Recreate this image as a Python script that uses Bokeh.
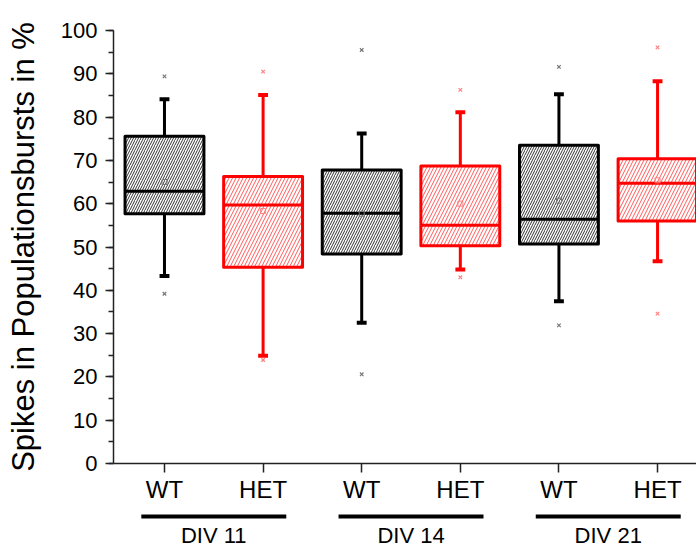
from bokeh.plotting import figure
from bokeh.models import Range1d, FixedTicker, SingleIntervalTicker, ColumnDataSource
from bokeh.layouts import column
from bokeh.core.properties import value
from bokeh.embed import file_html
from bokeh.resources import INLINE

# ---- data ----
groups = ["DIV 11", "DIV 14", "DIV 21"]
genotypes = ["WT", "HET", "WT", "HET", "WT", "HET"]
positions = [1, 2, 3, 4, 5, 6]
q1 = [57.7, 45.3, 48.4, 50.3, 50.7, 56.0]
median = [62.9, 59.7, 57.8, 55.0, 56.4, 64.7]
q3 = [75.6, 66.3, 67.8, 68.7, 73.5, 70.4]
whisker_low = [43.3, 24.9, 32.5, 44.8, 37.5, 46.7]
whisker_high = [84.1, 85.1, 76.2, 81.1, 85.3, 88.3]
means = [65.0, 58.3, 57.7, 60.0, 60.7, 65.4]
outlier_high = [89.4, 90.5, 95.5, 86.3, 91.6, 96.1]
outlier_low = [39.2, 23.9, 20.6, 43.0, 31.9, 34.6]

FONT = "Liberation Sans"
colors = ["black", "red"] * 3
hatch_colors = ["#333333", "#ff5a5a"] * 3
hatch_scales = [5, 7] * 3
marker_colors = ["#777777", "#ff8080"] * 3

BW = 0.8
CAP = 0.1

p = figure(width=696, height=507, output_backend="svg", toolbar_location=None,
           x_range=Range1d(0.483, 6.395), y_range=Range1d(0, 100),
           min_border_left=113, min_border_right=0, min_border_top=30,
           min_border_bottom=44)
p.outline_line_color = None
p.xgrid.visible = False
p.ygrid.visible = False
p.background_fill_color = "white"

src = ColumnDataSource(dict(
    x=positions, q1=q1, q3=q3, med=median, wl=whisker_low, wh=whisker_high,
    mean=means, oh=outlier_high, ol=outlier_low,
    x0=[x - BW / 2 for x in positions], x1=[x + BW / 2 for x in positions],
    c0=[x - CAP / 2 for x in positions], c1=[x + CAP / 2 for x in positions],
    color=colors, hcolor=hatch_colors, hscale=hatch_scales, mcolor=marker_colors,
))

# whiskers
p.segment(x0="x", y0="q3", x1="x", y1="wh", source=src, line_color="color", line_width=3)
p.segment(x0="x", y0="q1", x1="x", y1="wl", source=src, line_color="color", line_width=3)
p.segment(x0="c0", y0="wh", x1="c1", y1="wh", source=src, line_color="color", line_width=4)
p.segment(x0="c0", y0="wl", x1="c1", y1="wl", source=src, line_color="color", line_width=4)

# boxes
p.vbar(x="x", width=BW, bottom="q1", top="q3", source=src, fill_color="white",
       line_color="color", line_width=3, line_join="round",
       hatch_pattern="/", hatch_color="hcolor", hatch_scale="hscale", hatch_weight=1)
p.segment(x0="x0", y0="med", x1="x1", y1="med", source=src, line_color="color", line_width=3)

# means & outliers
p.scatter(x="x", y="mean", source=src, marker="square", size=5, fill_color=None,
          line_color="mcolor", line_width=1)
p.scatter(x="x", y="oh", source=src, marker="x", size=5, line_color="mcolor", line_width=1.2)
p.scatter(x="x", y="ol", source=src, marker="x", size=5, line_color="mcolor", line_width=1.2)

# axes
xa = p.xaxis[0]
xa.ticker = FixedTicker(ticks=positions)
xa.major_label_overrides = {pos: g for pos, g in zip(positions, genotypes)}
xa.major_tick_out = 9
xa.major_tick_in = 0
xa.minor_tick_out = 0
xa.minor_tick_in = 0
xa.axis_line_width = 1.5
xa.major_tick_line_width = 1.5
xa.axis_line_color = "#222222"
xa.major_tick_line_color = "#222222"
xa.major_label_text_font = FONT
xa.major_label_text_font_size = "24px"
xa.major_label_text_color = "black"
xa.major_label_standoff = 3

ya = p.yaxis[0]
ya.ticker = SingleIntervalTicker(interval=10, num_minor_ticks=2)
ya.major_tick_out = 8
ya.major_tick_in = 0
ya.minor_tick_out = 5
ya.minor_tick_in = 0
ya.axis_line_width = 1.5
ya.major_tick_line_width = 1.5
ya.minor_tick_line_width = 1.5
ya.axis_line_color = "#222222"
ya.major_tick_line_color = "#222222"
ya.minor_tick_line_color = "#222222"
ya.major_label_text_font = FONT
ya.major_label_text_font_size = "22px"
ya.major_label_text_color = "black"
ya.major_label_standoff = 8
ya.axis_label = "Spikes in Populationsbursts in %"
ya.axis_label_text_font = FONT
ya.axis_label_text_font_size = "31px"
ya.axis_label_text_font_style = "normal"
ya.axis_label_text_color = "black"
ya.axis_label_standoff = 17

# bottom strip: group labels with underline bars
group_centers = [1.5, 3.5, 5.5]
GH = 0.735
q = figure(width=696, height=40, output_backend="svg", toolbar_location=None,
           x_range=p.x_range, y_range=Range1d(0, 40),
           min_border_left=113, min_border_right=0, min_border_top=0, min_border_bottom=0)
q.outline_line_color = None
q.xaxis.visible = False
q.yaxis.visible = False
q.xgrid.visible = False
q.ygrid.visible = False
gsrc = ColumnDataSource(dict(
    x=group_centers, x0=[c - GH for c in group_centers], x1=[c + GH for c in group_centers],
    ybar=[31] * 3, ytext=[12.5] * 3, label=groups))
q.segment(x0="x0", y0="ybar", x1="x1", y1="ybar", source=gsrc, line_color="black", line_width=4)
q.text(x="x", y="ytext", text="label", source=gsrc, text_font=value(FONT),
       text_font_size="22px", text_align="center", text_baseline="middle", text_color="black")

layout = column(p, q, spacing=0)
open("out.html", "w").write(file_html(layout, INLINE))
